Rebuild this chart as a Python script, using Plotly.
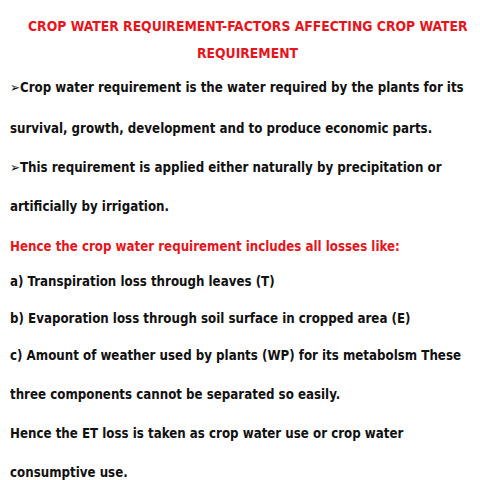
import plotly.graph_objects as go

title_lines = ["CROP WATER REQUIREMENT-FACTORS AFFECTING CROP WATER", "REQUIREMENT"]
title_y = [18, 45]
body_lines = [
    "➢Crop water requirement is the water required by the plants for its",
    "survival, growth, development and to produce economic parts.",
    "➢This requirement is applied either naturally by precipitation or",
    "artificially by irrigation.",
    "Hence the crop water requirement includes all losses like:",
    "a) Transpiration loss through leaves (T)",
    "b) Evaporation loss through soil surface in cropped area (E)",
    "c) Amount of weather used by plants (WP) for its metabolsm These",
    "three components cannot be separated so easily.",
    "Hence the ET loss is taken as crop water use or crop water",
    "consumptive use.",
]
body_y = [80, 120, 160, 198, 238, 273, 310, 347, 386, 425, 464]
body_red = [False, False, False, False, True, False, False, False, False, False, False]

fig = go.Figure()
ann = []
for t, py in zip(title_lines, title_y):
    ann.append(dict(x=0.5, y=1 - py / 480, xref="paper", yref="paper", text="<b>%s</b>" % t,
                    showarrow=False, xanchor="center", yanchor="middle",
                    font=dict(family="DejaVu Sans Condensed", size=13.8, color="#e8141c")))
for t, py, r in zip(body_lines, body_y, body_red):
    ann.append(dict(x=0, y=1 - py / 480, xref="paper", yref="paper", text="<b>%s</b>" % t,
                    showarrow=False, xanchor="left", yanchor="middle",
                    font=dict(family="DejaVu Sans Condensed", size=13.2,
                              color="#e8141c" if r else "#111111")))
fig.update_layout(width=480, height=480, margin=dict(l=0, r=0, t=0, b=0),
                  paper_bgcolor="white", plot_bgcolor="white", annotations=ann,
                  xaxis=dict(visible=False), yaxis=dict(visible=False))
fig.write_html("out.html")
